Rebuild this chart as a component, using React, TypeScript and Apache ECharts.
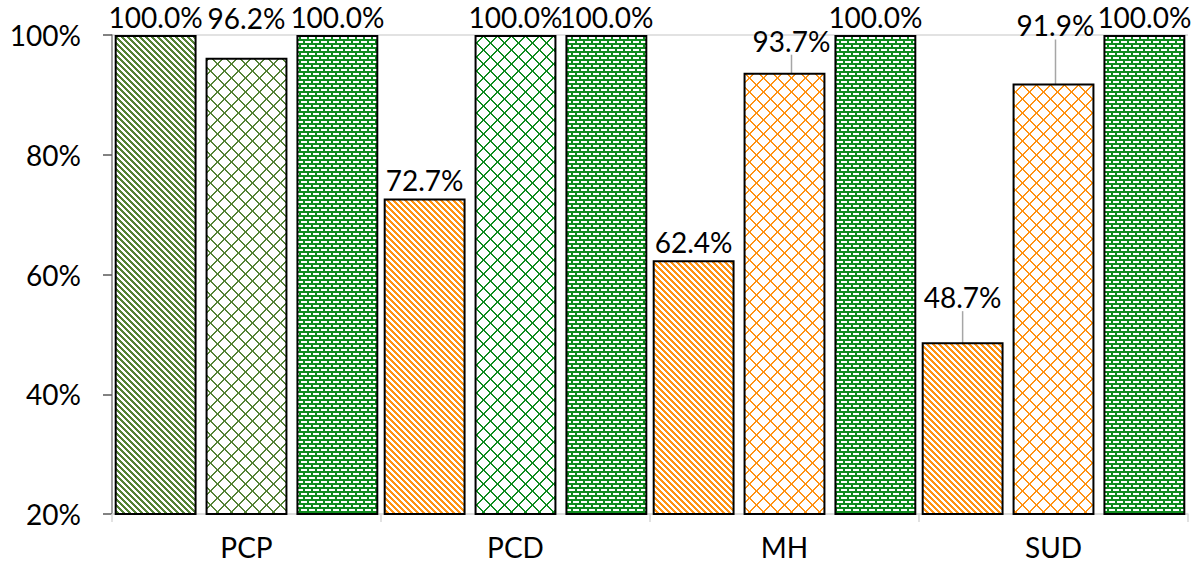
import React, { useEffect, useRef } from 'react';
import * as echarts from 'echarts';

const categories = ['PCP', 'PCD', 'MH', 'SUD'];
const barA = [100, 72.7, 62.4, 48.7];
const barB = [96.2, 100, 93.7, 91.9];
const barC = [100, 100, 100, 100];
const yMin = 20;
const yMax = 100;
const yStep = 20;

const OLIVE = '#548235';
const GREEN = '#0F8B1E';
const ORANGE = '#FF9212';

function hexToRgb(h: string) {
  const n = parseInt(h.slice(1), 16);
  return [(n >> 16) & 255, (n >> 8) & 255, n & 255];
}

function makePattern(size: number, fg: string, bg: string, test: (x: number, y: number) => boolean) {
  const c = document.createElement('canvas');
  c.width = size;
  c.height = size;
  const ctx = c.getContext('2d')!;
  const img = ctx.createImageData(size, size);
  const f = hexToRgb(fg);
  const b = hexToRgb(bg);
  for (let y = 0; y < size; y++) {
    for (let x = 0; x < size; x++) {
      const col = test(x, y) ? f : b;
      const i = (y * size + x) * 4;
      img.data[i] = col[0];
      img.data[i + 1] = col[1];
      img.data[i + 2] = col[2];
      img.data[i + 3] = 255;
    }
  }
  ctx.putImageData(img, 0, 0);
  return { image: c.toDataURL(), repeat: 'repeat', imageWidth: size, imageHeight: size } as any;
}

const stripes = (col: string) => makePattern(6, col, '#FFFFFF', (x, y) => ((x - y + 60) % 6) < 3);
const diamonds = (col: string) =>
  makePattern(14, col, '#FFFFFF', (x, y) => {
    const s = (x + y) % 14;
    const d = (x - y + 28) % 14;
    return s === 0 || s === 1 || d === 0 || d === 13;
  });
const bricks = (col: string) =>
  makePattern(8, '#FFFFFF', col, (x, y) => {
    const r = y % 8;
    if (r === 1 || r === 2) return x >= 1 && x <= 6;
    if (r === 5 || r === 6) return x >= 5 || x <= 2;
    return false;
  });

export default function App() {
  const ref = useRef<HTMLDivElement>(null);
  useEffect(() => {
    if (!ref.current) return;
    const chart = echarts.init(ref.current, undefined, { renderer: 'svg' });
    const font = 'Lato, "Noto Sans", sans-serif';
    const fs = 28;
    const labelBase = {
      show: true,
      position: 'top',
      distance: 4,
      color: '#000',
      fontSize: fs,
      fontFamily: font,
      formatter: (p: any) => p.value.toFixed(1) + '%',
    };
    const aColors = [stripes(OLIVE), stripes(ORANGE), stripes(ORANGE), stripes(ORANGE)];
    const bColors = [diamonds(OLIVE), diamonds(GREEN), diamonds(ORANGE), diamonds(ORANGE)];
    const cColor = bricks(GREEN);
    const lineOn = { show: true, lineStyle: { color: '#A6A6A6', width: 1.5 } };
    const aShift: Record<number, { dx: number; dy: number; line: boolean }> = {
      3: { dx: 0, dy: -27, line: true },
    };
    const bShift: Record<number, { dx: number; dy: number; line: boolean }> = {
      0: { dx: 0, dy: -22, line: false },
      2: { dx: 7, dy: -14, line: true },
      3: { dx: 2, dy: -40, line: true },
    };
    const border = { borderColor: '#000', borderWidth: 2 };
    chart.setOption({
      animation: false,
      grid: { left: 112, right: 4, top: 35, bottom: 55, containLabel: false },
      xAxis: {
        type: 'category',
        data: categories,
        axisLine: { show: true, lineStyle: { color: '#D9D9D9', width: 1.5 } },
        axisTick: { show: true, length: 8, lineStyle: { color: '#D9D9D9', width: 1.5 } },
        axisLabel: { color: '#000', fontSize: fs, fontFamily: font, margin: 19 },
      },
      yAxis: [
        {
          type: 'value',
          min: yMin,
          max: yMax,
          interval: yStep,
          axisLine: { show: true, lineStyle: { color: '#808080', width: 1.5 } },
          axisTick: { show: true, length: 9, lineStyle: { color: '#595959', width: 1.5 } },
          splitLine: { show: false },
          axisLabel: { color: '#000', fontSize: fs, fontFamily: font, margin: 31, formatter: '{value}%' },
        },
        {
          type: 'value',
          min: yMin,
          max: yMax,
          interval: yMax - yMin,
          position: 'left',
          axisLine: { show: false },
          axisTick: { show: false },
          axisLabel: { show: false },
          splitLine: { show: true, lineStyle: { color: '#D9D9D9', width: 1.5 } },
        },
      ],
      series: [
        {
          type: 'bar',
          barGap: '11%',
          barCategoryGap: '2%',
          label: labelBase,
          labelLayout: (p: any) => {
            const s = aShift[p.dataIndex];
            return s ? { dx: s.dx, dy: s.dy } : {};
          },
          data: barA.map((v, i) => ({
            value: v,
            itemStyle: { color: aColors[i], ...border },
            labelLine: aShift[i] && aShift[i].line ? lineOn : { show: false },
          })),
        },
        {
          type: 'bar',
          barGap: '11%',
          barCategoryGap: '2%',
          label: labelBase,
          labelLayout: (p: any) => {
            const s = bShift[p.dataIndex];
            return s ? { dx: s.dx, dy: s.dy } : {};
          },
          data: barB.map((v, i) => ({
            value: v,
            itemStyle: { color: bColors[i], ...border },
            labelLine: bShift[i] && bShift[i].line ? lineOn : { show: false },
          })),
        },
        {
          type: 'bar',
          barGap: '11%',
          barCategoryGap: '2%',
          label: labelBase,
          data: barC.map((v) => ({ value: v, itemStyle: { color: cColor, ...border } })),
        },
      ],
    });
    return () => chart.dispose();
  }, []);
  return <div ref={ref} style={{ width: 1192, height: 569, position: 'absolute', left: 0, top: 0 }} />;
}
